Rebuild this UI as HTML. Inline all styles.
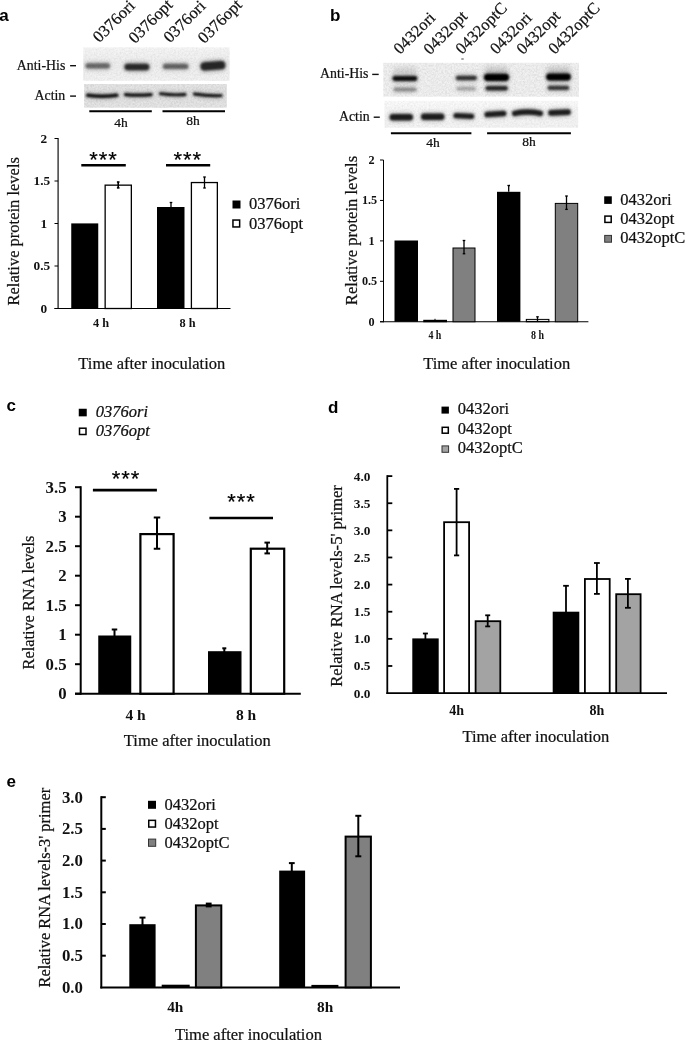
<!DOCTYPE html>
<html><head><meta charset="utf-8"><title>Figure</title>
<style>
html,body{margin:0;padding:0;background:#fff;}
svg{display:block;will-change:transform;}
.f-serif{font-family:"Liberation Serif",serif;}
.f-sans{font-family:"Liberation Sans",sans-serif;}
</style></head><body>
<svg width="685" height="1041" viewBox="0 0 685 1041">
<defs>
<filter id="b1" filterUnits="userSpaceOnUse" x="70" y="30" width="530" height="110"><feGaussianBlur stdDeviation="0.9"/></filter>
<filter id="b2" filterUnits="userSpaceOnUse" x="70" y="30" width="530" height="110"><feGaussianBlur stdDeviation="1.3"/></filter>
<filter id="b3" filterUnits="userSpaceOnUse" x="70" y="30" width="530" height="110"><feGaussianBlur stdDeviation="2.0"/></filter>
<filter id="noise" filterUnits="userSpaceOnUse" x="70" y="30" width="530" height="110">
<feTurbulence type="fractalNoise" baseFrequency="0.55" numOctaves="2" seed="7" result="t"/>
<feColorMatrix in="t" type="matrix" values="0 0 0 0 0  0 0 0 0 0  0 0 0 0 0  0.14 0.14 0.14 0 -0.17"/>
<feComposite in2="SourceGraphic" operator="in"/>
</filter>
<linearGradient id="gb2" x1="0" y1="0" x2="0" y2="1"><stop offset="0" stop-color="#fbfbfb"/><stop offset="0.5" stop-color="#f5f5f5"/><stop offset="1" stop-color="#f4f4f4"/></linearGradient>
<linearGradient id="ga1" x1="0" y1="0" x2="0" y2="1"><stop offset="0" stop-color="#f6f6f6"/><stop offset="0.45" stop-color="#eeeeee"/><stop offset="1" stop-color="#f2f2f2"/></linearGradient>
<clipPath id="ca1"><rect x="83.2" y="47.3" width="146.5" height="33.5"/></clipPath>
<clipPath id="ca2"><rect x="84.1" y="84.0" width="142.7" height="23.7"/></clipPath>
<clipPath id="cb1"><rect x="383.3" y="62.8" width="195.7" height="33.9"/></clipPath>
<clipPath id="cb2"><rect x="384.4" y="100.8" width="193.8" height="26.9"/></clipPath>
</defs>
<rect x="0" y="0" width="685" height="1041" fill="#fff"/>

<text class="f-sans" x="-0.8" y="21" text-anchor="start" style="font-size:17px;font-weight:bold;" fill="#000">a</text>
<text class="f-sans" x="330" y="21" text-anchor="start" style="font-size:17px;font-weight:bold;" fill="#000">b</text>
<text class="f-sans" x="6.5" y="411" text-anchor="start" style="font-size:17px;font-weight:bold;" fill="#000">c</text>
<text class="f-sans" x="328" y="412.5" text-anchor="start" style="font-size:17px;font-weight:bold;" fill="#000">d</text>
<text class="f-sans" x="6.5" y="786.5" text-anchor="start" style="font-size:17px;font-weight:bold;" fill="#000">e</text>
<text class="f-serif" x="99.3" y="43.3" text-anchor="start" style="font-size:16.6px;stroke:#111;stroke-width:0.22px;" fill="#111" transform="rotate(-45 99.3 43.3)">0376ori</text>
<text class="f-serif" x="135.0" y="44.3" text-anchor="start" style="font-size:16.6px;stroke:#111;stroke-width:0.22px;" fill="#111" transform="rotate(-45 135.0 44.3)">0376opt</text>
<text class="f-serif" x="170.0" y="43.5" text-anchor="start" style="font-size:16.6px;stroke:#111;stroke-width:0.22px;" fill="#111" transform="rotate(-45 170.0 43.5)">0376ori</text>
<text class="f-serif" x="204.3" y="44.3" text-anchor="start" style="font-size:16.6px;stroke:#111;stroke-width:0.22px;" fill="#111" transform="rotate(-45 204.3 44.3)">0376opt</text>
<rect x="83.20" y="47.30" width="146.50" height="33.50" fill="url(#ga1)"/>
<g clip-path="url(#ca1)">
<rect x="84.70" y="61.90" width="26.10" height="7.80" rx="3.90" fill="#000" opacity="0.20700000000000002" filter="url(#b3)"/>
<rect x="85.50" y="63.20" width="24.50" height="5.20" rx="2.60" fill="#000" opacity="0.46" filter="url(#b2)"/>
<rect x="123.70" y="62.40" width="26.40" height="9.20" rx="4.60" fill="#000" opacity="0.333" filter="url(#b3)"/>
<rect x="124.50" y="63.70" width="24.80" height="6.60" rx="3.30" fill="#000" opacity="0.74" filter="url(#b2)"/>
<rect x="162.20" y="62.50" width="26.90" height="7.80" rx="3.90" fill="#000" opacity="0.216" filter="url(#b3)"/>
<rect x="163.00" y="63.80" width="25.30" height="5.20" rx="2.60" fill="#000" opacity="0.48" filter="url(#b2)"/>
<path d="M205.10 66.40 Q212.90 65.80 220.70 65.20" fill="none" stroke="#000" stroke-width="10.80" stroke-linecap="round" opacity="0.342" filter="url(#b3)"/>
<path d="M204.60 66.40 Q212.90 65.80 221.20 65.20" fill="none" stroke="#000" stroke-width="8.20" stroke-linecap="round" opacity="0.76" filter="url(#b2)"/>
</g>
<rect x="84.10" y="84.00" width="142.70" height="23.70" fill="#e5e5e5"/>
<g clip-path="url(#ca2)">
<path d="M88.30 95.20 Q102.25 97.20 116.20 95.20" fill="none" stroke="#000" stroke-width="6.20" stroke-linecap="round" opacity="0.23" filter="url(#b3)"/>
<path d="M87.80 95.20 Q102.25 97.20 116.70 95.20" fill="none" stroke="#000" stroke-width="3.60" stroke-linecap="round" opacity="0.92" filter="url(#b1)"/>
<path d="M126.10 94.60 Q138.30 95.80 150.50 94.60" fill="none" stroke="#000" stroke-width="5.80" stroke-linecap="round" opacity="0.23" filter="url(#b3)"/>
<path d="M125.60 94.60 Q138.30 95.80 151.00 94.60" fill="none" stroke="#000" stroke-width="3.20" stroke-linecap="round" opacity="0.92" filter="url(#b1)"/>
<path d="M160.90 93.70 Q172.70 95.50 184.50 94.50" fill="none" stroke="#000" stroke-width="5.40" stroke-linecap="round" opacity="0.23" filter="url(#b3)"/>
<path d="M160.40 93.70 Q172.70 95.50 185.00 94.50" fill="none" stroke="#000" stroke-width="2.80" stroke-linecap="round" opacity="0.92" filter="url(#b1)"/>
<path d="M194.90 94.00 Q207.80 96.20 220.70 95.60" fill="none" stroke="#000" stroke-width="5.40" stroke-linecap="round" opacity="0.23" filter="url(#b3)"/>
<path d="M194.40 94.00 Q207.80 96.20 221.20 95.60" fill="none" stroke="#000" stroke-width="2.80" stroke-linecap="round" opacity="0.92" filter="url(#b1)"/>
</g>
<rect x="83.2" y="47.3" width="146.5" height="33.5" fill="#000" filter="url(#noise)" opacity="0.5"/>
<rect x="84.1" y="84.0" width="142.7" height="23.7" fill="#000" filter="url(#noise)" opacity="0.7"/>
<text class="f-serif" x="65.3" y="70.2" text-anchor="end" style="font-size:13.85px;stroke:#111;stroke-width:0.22px;" fill="#111">Anti-His</text>
<rect x="70.10" y="65.00" width="5.90" height="1.40" fill="#111"/>
<text class="f-serif" x="65.3" y="100.3" text-anchor="end" style="font-size:13.85px;stroke:#111;stroke-width:0.22px;" fill="#111">Actin</text>
<rect x="70.10" y="95.40" width="5.90" height="1.40" fill="#111"/>
<line x1="89.30" y1="111.30" x2="151.80" y2="111.30" stroke="#000" stroke-width="2" stroke-linecap="butt"/>
<line x1="162.50" y1="111.30" x2="225.00" y2="111.30" stroke="#000" stroke-width="2" stroke-linecap="butt"/>
<text class="f-serif" x="121" y="126.7" text-anchor="middle" style="font-size:13.5px;stroke:#111;stroke-width:0.22px;" fill="#111">4h</text>
<text class="f-serif" x="193" y="125.3" text-anchor="middle" style="font-size:13.5px;stroke:#111;stroke-width:0.22px;" fill="#111">8h</text>
<line x1="58.10" y1="138.00" x2="58.10" y2="309.00" stroke="#222" stroke-width="1.3" stroke-linecap="butt"/>
<line x1="54.50" y1="308.50" x2="230.50" y2="308.50" stroke="#000" stroke-width="1.2" stroke-linecap="butt"/>
<line x1="54.50" y1="308.50" x2="58.10" y2="308.50" stroke="#000" stroke-width="1" stroke-linecap="butt"/>
<text class="f-serif" x="47.2" y="312.9" text-anchor="end" style="font-size:13.3px;font-weight:bold;" fill="#111">0</text>
<line x1="54.50" y1="266.00" x2="58.10" y2="266.00" stroke="#000" stroke-width="1" stroke-linecap="butt"/>
<text class="f-serif" x="50.2" y="270.4" text-anchor="end" style="font-size:13.3px;font-weight:bold;" fill="#111">0.5</text>
<line x1="54.50" y1="223.50" x2="58.10" y2="223.50" stroke="#000" stroke-width="1" stroke-linecap="butt"/>
<text class="f-serif" x="47.2" y="227.9" text-anchor="end" style="font-size:13.3px;font-weight:bold;" fill="#111">1</text>
<line x1="54.50" y1="181.00" x2="58.10" y2="181.00" stroke="#000" stroke-width="1" stroke-linecap="butt"/>
<text class="f-serif" x="50.2" y="185.4" text-anchor="end" style="font-size:13.3px;font-weight:bold;" fill="#111">1.5</text>
<line x1="54.50" y1="138.50" x2="58.10" y2="138.50" stroke="#000" stroke-width="1" stroke-linecap="butt"/>
<text class="f-serif" x="47.2" y="142.9" text-anchor="end" style="font-size:13.3px;font-weight:bold;" fill="#111">2</text>
<rect x="71.25" y="223.40" width="27.00" height="85.10" fill="#000"/>
<rect x="105.15" y="185.15" width="26.20" height="123.35" fill="#fff" stroke="#000" stroke-width="1.3"/>
<rect x="157.00" y="207.00" width="27.50" height="101.50" fill="#000"/>
<rect x="191.40" y="182.55" width="25.95" height="125.95" fill="#fff" stroke="#000" stroke-width="1.3"/>
<line x1="118.20" y1="182.00" x2="118.20" y2="187.90" stroke="#000" stroke-width="1.6" stroke-linecap="butt"/>
<line x1="116.90" y1="182.00" x2="119.50" y2="182.00" stroke="#000" stroke-width="1.6" stroke-linecap="butt"/>
<line x1="116.90" y1="187.90" x2="119.50" y2="187.90" stroke="#000" stroke-width="1.6" stroke-linecap="butt"/>
<line x1="171.00" y1="202.50" x2="171.00" y2="207.00" stroke="#000" stroke-width="1.3" stroke-linecap="butt"/>
<line x1="169.70" y1="202.50" x2="172.30" y2="202.50" stroke="#000" stroke-width="1.3" stroke-linecap="butt"/>
<line x1="204.50" y1="177.00" x2="204.50" y2="188.00" stroke="#000" stroke-width="1.3" stroke-linecap="butt"/>
<line x1="203.20" y1="177.00" x2="205.80" y2="177.00" stroke="#000" stroke-width="1.3" stroke-linecap="butt"/>
<line x1="203.20" y1="188.00" x2="205.80" y2="188.00" stroke="#000" stroke-width="1.3" stroke-linecap="butt"/>
<line x1="81.30" y1="165.30" x2="125.80" y2="165.30" stroke="#000" stroke-width="2.4" stroke-linecap="butt"/>
<line x1="166.00" y1="165.30" x2="210.20" y2="165.30" stroke="#000" stroke-width="2.4" stroke-linecap="butt"/>
<text class="f-sans" x="103.5" y="167.2" text-anchor="middle" style="font-size:22px;" fill="#000" letter-spacing="0.9" stroke="#000" stroke-width="0.2">***</text>
<text class="f-sans" x="187.8" y="167.2" text-anchor="middle" style="font-size:22px;" fill="#000" letter-spacing="0.9" stroke="#000" stroke-width="0.2">***</text>
<text class="f-serif" x="101" y="327.3" text-anchor="middle" style="font-size:12.3px;font-weight:bold;" fill="#111">4 h</text>
<text class="f-serif" x="187.5" y="327.3" text-anchor="middle" style="font-size:12.3px;font-weight:bold;" fill="#111">8 h</text>
<text class="f-serif" x="78.3" y="368.75" text-anchor="start" style="font-size:16.5px;stroke:#111;stroke-width:0.22px;" fill="#111">Time after inoculation</text>
<text class="f-serif" x="19" y="231.3" text-anchor="middle" style="font-size:16.5px;stroke:#111;stroke-width:0.22px;" fill="#111" transform="rotate(-90 19 231.3)">Relative protein levels</text>
<rect x="232.50" y="200.50" width="8.00" height="8.00" fill="#000"/>
<rect x="232.95" y="220.05" width="6.70" height="6.90" fill="#fff" stroke="#000" stroke-width="1.5"/>
<text class="f-serif" x="249.0" y="209.3" text-anchor="start" style="font-size:16.5px;stroke:#111;stroke-width:0.22px;" fill="#111">0376ori</text>
<text class="f-serif" x="249.0" y="228.8" text-anchor="start" style="font-size:16.5px;stroke:#111;stroke-width:0.22px;" fill="#111">0376opt</text>
<text class="f-serif" x="400.0" y="55.0" text-anchor="start" style="font-size:16.5px;stroke:#111;stroke-width:0.22px;" fill="#111" transform="rotate(-45 400.0 55.0)">0432ori</text>
<text class="f-serif" x="430.0" y="55.4" text-anchor="start" style="font-size:16.5px;stroke:#111;stroke-width:0.22px;" fill="#111" transform="rotate(-45 430.0 55.4)">0432opt</text>
<text class="f-serif" x="462" y="55.0" text-anchor="start" style="font-size:16.5px;stroke:#111;stroke-width:0.22px;" fill="#111" transform="rotate(-45 462 55.0)">0432optC</text>
<text class="f-serif" x="496.5" y="55.0" text-anchor="start" style="font-size:16.5px;stroke:#111;stroke-width:0.22px;" fill="#111" transform="rotate(-45 496.5 55.0)">0432ori</text>
<text class="f-serif" x="523.0" y="55.2" text-anchor="start" style="font-size:16.5px;stroke:#111;stroke-width:0.22px;" fill="#111" transform="rotate(-45 523.0 55.2)">0432opt</text>
<text class="f-serif" x="554.8" y="55.0" text-anchor="start" style="font-size:16.5px;stroke:#111;stroke-width:0.22px;" fill="#111" transform="rotate(-45 554.8 55.0)">0432optC</text>
<rect x="383.30" y="62.80" width="195.70" height="33.90" fill="#f1f1f1"/>
<g clip-path="url(#cb1)">
<rect x="393.00" y="67.00" width="24.00" height="8.00" rx="4.00" fill="#000" opacity="0.1" filter="url(#b3)"/>
<rect x="484.50" y="66.00" width="24.00" height="8.00" rx="4.00" fill="#000" opacity="0.12" filter="url(#b3)"/>
<rect x="546.50" y="66.00" width="24.00" height="8.00" rx="4.00" fill="#000" opacity="0.12" filter="url(#b3)"/>
<rect x="391.70" y="74.80" width="26.40" height="7.40" rx="3.70" fill="#000" opacity="0.315" filter="url(#b3)"/>
<rect x="392.50" y="76.10" width="24.80" height="4.80" rx="2.40" fill="#000" opacity="0.9" filter="url(#b1)"/>
<rect x="392.70" y="86.10" width="24.60" height="6.60" rx="3.30" fill="#000" opacity="0.15" filter="url(#b3)"/>
<rect x="393.50" y="87.40" width="23.00" height="4.00" rx="2.00" fill="#000" opacity="0.3" filter="url(#b2)"/>
<rect x="455.00" y="74.50" width="22.60" height="7.00" rx="3.50" fill="#000" opacity="0.252" filter="url(#b3)"/>
<rect x="455.80" y="75.80" width="21.00" height="4.40" rx="2.20" fill="#000" opacity="0.72" filter="url(#b1)"/>
<rect x="455.70" y="85.50" width="21.10" height="6.20" rx="3.10" fill="#000" opacity="0.11" filter="url(#b3)"/>
<rect x="456.50" y="86.80" width="19.50" height="3.60" rx="1.80" fill="#000" opacity="0.22" filter="url(#b2)"/>
<rect x="483.20" y="72.40" width="26.60" height="9.80" rx="4.90" fill="#000" opacity="0.35" filter="url(#b3)"/>
<rect x="484.00" y="73.70" width="25.00" height="7.20" rx="3.60" fill="#000" opacity="1.0" filter="url(#b1)"/>
<rect x="484.70" y="84.70" width="23.90" height="7.20" rx="3.60" fill="#000" opacity="0.27299999999999996" filter="url(#b3)"/>
<rect x="485.50" y="86.00" width="22.30" height="4.60" rx="2.30" fill="#000" opacity="0.78" filter="url(#b1)"/>
<rect x="545.40" y="72.30" width="26.20" height="9.40" rx="4.70" fill="#000" opacity="0.35" filter="url(#b3)"/>
<rect x="546.20" y="73.60" width="24.60" height="6.80" rx="3.40" fill="#000" opacity="1.0" filter="url(#b1)"/>
<rect x="546.80" y="84.50" width="23.20" height="6.80" rx="3.40" fill="#000" opacity="0.24499999999999997" filter="url(#b3)"/>
<rect x="547.60" y="85.80" width="21.60" height="4.20" rx="2.10" fill="#000" opacity="0.7" filter="url(#b1)"/>
</g>
<rect x="384.40" y="100.80" width="193.80" height="26.90" fill="url(#gb2)"/>
<g clip-path="url(#cb2)">
<rect x="388.80" y="112.70" width="25.00" height="9.00" rx="4.50" fill="#000" opacity="0.252" filter="url(#b3)"/>
<rect x="389.60" y="114.00" width="23.40" height="6.40" rx="3.20" fill="#000" opacity="0.84" filter="url(#b1)"/>
<rect x="420.20" y="112.20" width="25.00" height="9.00" rx="4.50" fill="#000" opacity="0.252" filter="url(#b3)"/>
<rect x="421.00" y="113.50" width="23.40" height="6.40" rx="3.20" fill="#000" opacity="0.84" filter="url(#b1)"/>
<path d="M456.50 115.70 Q463.80 116.00 471.10 116.30" fill="none" stroke="#000" stroke-width="7.80" stroke-linecap="round" opacity="0.252" filter="url(#b3)"/>
<path d="M456.00 115.70 Q463.80 116.00 471.60 116.30" fill="none" stroke="#000" stroke-width="5.20" stroke-linecap="round" opacity="0.84" filter="url(#b1)"/>
<path d="M487.80 114.50 Q495.45 114.00 503.10 113.50" fill="none" stroke="#000" stroke-width="8.20" stroke-linecap="round" opacity="0.252" filter="url(#b3)"/>
<path d="M487.30 114.50 Q495.45 114.00 503.60 113.50" fill="none" stroke="#000" stroke-width="5.60" stroke-linecap="round" opacity="0.84" filter="url(#b1)"/>
<path d="M515.20 113.40 Q527.50 110.60 539.80 113.40" fill="none" stroke="#000" stroke-width="8.00" stroke-linecap="round" opacity="0.252" filter="url(#b3)"/>
<path d="M514.70 113.40 Q527.50 110.60 540.30 113.40" fill="none" stroke="#000" stroke-width="5.40" stroke-linecap="round" opacity="0.84" filter="url(#b1)"/>
<path d="M551.50 112.90 Q559.50 112.50 567.50 112.10" fill="none" stroke="#000" stroke-width="8.20" stroke-linecap="round" opacity="0.252" filter="url(#b3)"/>
<path d="M551.00 112.90 Q559.50 112.50 568.00 112.10" fill="none" stroke="#000" stroke-width="5.60" stroke-linecap="round" opacity="0.84" filter="url(#b1)"/>
</g>
<rect x="461.30" y="58.50" width="2.40" height="1.00" fill="#444"/>
<rect x="383.3" y="62.8" width="195.7" height="33.9" fill="#000" filter="url(#noise)" opacity="0.7"/>
<rect x="384.4" y="100.8" width="193.8" height="26.9" fill="#000" filter="url(#noise)" opacity="0.5"/>
<text class="f-serif" x="368.5" y="78.1" text-anchor="end" style="font-size:13.85px;stroke:#111;stroke-width:0.22px;" fill="#111">Anti-His</text>
<rect x="372.20" y="73.70" width="6.50" height="1.40" fill="#111"/>
<text class="f-serif" x="369.7" y="120.5" text-anchor="end" style="font-size:13.85px;stroke:#111;stroke-width:0.22px;" fill="#111">Actin</text>
<rect x="373.70" y="116.50" width="6.10" height="1.40" fill="#111"/>
<line x1="390.90" y1="133.30" x2="471.40" y2="133.30" stroke="#000" stroke-width="2" stroke-linecap="butt"/>
<line x1="487.10" y1="133.30" x2="570.90" y2="133.30" stroke="#000" stroke-width="2" stroke-linecap="butt"/>
<text class="f-serif" x="433" y="147" text-anchor="middle" style="font-size:13.5px;stroke:#111;stroke-width:0.22px;" fill="#111">4h</text>
<text class="f-serif" x="529" y="146" text-anchor="middle" style="font-size:13.5px;stroke:#111;stroke-width:0.22px;" fill="#111">8h</text>
<line x1="383.50" y1="160.00" x2="383.50" y2="322.25" stroke="#000" stroke-width="1" stroke-linecap="butt"/>
<line x1="380.00" y1="321.75" x2="588.40" y2="321.75" stroke="#000" stroke-width="1" stroke-linecap="butt"/>
<line x1="380.00" y1="321.75" x2="383.50" y2="321.75" stroke="#000" stroke-width="1" stroke-linecap="butt"/>
<text class="f-serif" x="374.5" y="325.75" text-anchor="end" style="font-size:12.2px;font-weight:bold;" fill="#111">0</text>
<line x1="380.00" y1="281.31" x2="383.50" y2="281.31" stroke="#000" stroke-width="1" stroke-linecap="butt"/>
<text class="f-serif" x="377.2" y="285.3125" text-anchor="end" style="font-size:12.2px;font-weight:bold;" fill="#111">0.5</text>
<line x1="380.00" y1="240.88" x2="383.50" y2="240.88" stroke="#000" stroke-width="1" stroke-linecap="butt"/>
<text class="f-serif" x="374.5" y="244.875" text-anchor="end" style="font-size:12.2px;font-weight:bold;" fill="#111">1</text>
<line x1="380.00" y1="200.44" x2="383.50" y2="200.44" stroke="#000" stroke-width="1" stroke-linecap="butt"/>
<text class="f-serif" x="377.2" y="204.4375" text-anchor="end" style="font-size:12.2px;font-weight:bold;" fill="#111">1.5</text>
<line x1="380.00" y1="160.00" x2="383.50" y2="160.00" stroke="#000" stroke-width="1" stroke-linecap="butt"/>
<text class="f-serif" x="374.5" y="164.0" text-anchor="end" style="font-size:12.2px;font-weight:bold;" fill="#111">2</text>
<rect x="394.50" y="240.50" width="23.50" height="81.25" fill="#000"/>
<rect x="423.25" y="319.80" width="23.75" height="2.45" fill="#000"/>
<rect x="453.00" y="248.00" width="22.00" height="73.75" fill="#808080" stroke="#000" stroke-width="1"/>
<rect x="497.00" y="191.80" width="23.40" height="129.95" fill="#000"/>
<rect x="525.80" y="318.90" width="23.60" height="3.35" fill="#000"/>
<rect x="526.90" y="319.90" width="21.40" height="1.00" fill="#fff"/>
<rect x="555.30" y="203.40" width="22.40" height="118.35" fill="#808080" stroke="#000" stroke-width="1"/>
<line x1="435.00" y1="318.80" x2="435.00" y2="320.20" stroke="#000" stroke-width="1" stroke-linecap="butt"/>
<line x1="464.00" y1="240.50" x2="464.00" y2="253.75" stroke="#000" stroke-width="1.3" stroke-linecap="butt"/>
<line x1="462.70" y1="240.50" x2="465.30" y2="240.50" stroke="#000" stroke-width="1.3" stroke-linecap="butt"/>
<line x1="462.70" y1="253.75" x2="465.30" y2="253.75" stroke="#000" stroke-width="1.3" stroke-linecap="butt"/>
<line x1="508.70" y1="185.50" x2="508.70" y2="191.80" stroke="#000" stroke-width="1.3" stroke-linecap="butt"/>
<line x1="507.40" y1="185.50" x2="510.00" y2="185.50" stroke="#000" stroke-width="1.3" stroke-linecap="butt"/>
<line x1="537.50" y1="316.80" x2="537.50" y2="321.00" stroke="#000" stroke-width="1.3" stroke-linecap="butt"/>
<line x1="536.20" y1="316.80" x2="538.80" y2="316.80" stroke="#000" stroke-width="1.3" stroke-linecap="butt"/>
<line x1="566.50" y1="196.00" x2="566.50" y2="209.40" stroke="#000" stroke-width="1.3" stroke-linecap="butt"/>
<line x1="565.20" y1="196.00" x2="567.80" y2="196.00" stroke="#000" stroke-width="1.3" stroke-linecap="butt"/>
<line x1="565.20" y1="209.40" x2="567.80" y2="209.40" stroke="#000" stroke-width="1.3" stroke-linecap="butt"/>
<text class="f-serif" x="428.4" y="338.7" text-anchor="start" style="font-size:12px;font-weight:bold;" fill="#111" textLength="13" lengthAdjust="spacingAndGlyphs">4 h</text>
<text class="f-serif" x="531.0" y="338.7" text-anchor="start" style="font-size:12px;font-weight:bold;" fill="#111" textLength="13" lengthAdjust="spacingAndGlyphs">8 h</text>
<text class="f-serif" x="423.2" y="368.9" text-anchor="start" style="font-size:16.5px;stroke:#111;stroke-width:0.22px;" fill="#111">Time after inoculation</text>
<text class="f-serif" x="357" y="230.5" text-anchor="middle" style="font-size:16.6px;stroke:#111;stroke-width:0.22px;" fill="#111" transform="rotate(-90 357 230.5)">Relative protein levels</text>
<rect x="604.20" y="196.30" width="7.60" height="7.60" fill="#000"/>
<rect x="604.90" y="216.10" width="6.30" height="6.30" fill="#fff" stroke="#000" stroke-width="1.5"/>
<rect x="604.70" y="235.40" width="6.80" height="6.80" fill="#808080" stroke="#333" stroke-width="1"/>
<text class="f-serif" x="620.2" y="204.6" text-anchor="start" style="font-size:16.5px;stroke:#111;stroke-width:0.22px;" fill="#111">0432ori</text>
<text class="f-serif" x="620.2" y="223.9" text-anchor="start" style="font-size:16.5px;stroke:#111;stroke-width:0.22px;" fill="#111">0432opt</text>
<text class="f-serif" x="620.2" y="242.9" text-anchor="start" style="font-size:16.5px;stroke:#111;stroke-width:0.22px;" fill="#111">0432optC</text>
<line x1="80.70" y1="486.20" x2="80.70" y2="694.70" stroke="#000" stroke-width="2" stroke-linecap="butt"/>
<line x1="75.00" y1="693.70" x2="300.80" y2="693.70" stroke="#000" stroke-width="2" stroke-linecap="butt"/>
<line x1="75.00" y1="693.70" x2="80.70" y2="693.70" stroke="#000" stroke-width="2" stroke-linecap="butt"/>
<text class="f-serif" x="66.6" y="699.2" text-anchor="end" style="font-size:16.8px;font-weight:bold;" fill="#111">0</text>
<line x1="75.00" y1="664.20" x2="80.70" y2="664.20" stroke="#000" stroke-width="2" stroke-linecap="butt"/>
<text class="f-serif" x="66.6" y="669.7" text-anchor="end" style="font-size:16.8px;font-weight:bold;" fill="#111">0.5</text>
<line x1="75.00" y1="634.70" x2="80.70" y2="634.70" stroke="#000" stroke-width="2" stroke-linecap="butt"/>
<text class="f-serif" x="66.6" y="640.2" text-anchor="end" style="font-size:16.8px;font-weight:bold;" fill="#111">1</text>
<line x1="75.00" y1="605.20" x2="80.70" y2="605.20" stroke="#000" stroke-width="2" stroke-linecap="butt"/>
<text class="f-serif" x="66.6" y="610.7" text-anchor="end" style="font-size:16.8px;font-weight:bold;" fill="#111">1.5</text>
<line x1="75.00" y1="575.70" x2="80.70" y2="575.70" stroke="#000" stroke-width="2" stroke-linecap="butt"/>
<text class="f-serif" x="66.6" y="581.2" text-anchor="end" style="font-size:16.8px;font-weight:bold;" fill="#111">2</text>
<line x1="75.00" y1="546.20" x2="80.70" y2="546.20" stroke="#000" stroke-width="2" stroke-linecap="butt"/>
<text class="f-serif" x="66.6" y="551.7" text-anchor="end" style="font-size:16.8px;font-weight:bold;" fill="#111">2.5</text>
<line x1="75.00" y1="516.70" x2="80.70" y2="516.70" stroke="#000" stroke-width="2" stroke-linecap="butt"/>
<text class="f-serif" x="66.6" y="522.2" text-anchor="end" style="font-size:16.8px;font-weight:bold;" fill="#111">3</text>
<line x1="75.00" y1="487.20" x2="80.70" y2="487.20" stroke="#000" stroke-width="2" stroke-linecap="butt"/>
<text class="f-serif" x="66.6" y="492.7" text-anchor="end" style="font-size:16.8px;font-weight:bold;" fill="#111">3.5</text>
<rect x="98.25" y="635.50" width="33.00" height="58.20" fill="#000"/>
<rect x="140.40" y="534.10" width="33.20" height="159.60" fill="#fff" stroke="#000" stroke-width="2.2"/>
<rect x="208.00" y="651.20" width="33.50" height="42.50" fill="#000"/>
<rect x="250.80" y="548.70" width="33.40" height="145.00" fill="#fff" stroke="#000" stroke-width="2.2"/>
<line x1="114.50" y1="629.50" x2="114.50" y2="636.00" stroke="#000" stroke-width="2" stroke-linecap="butt"/>
<line x1="111.75" y1="629.50" x2="117.25" y2="629.50" stroke="#000" stroke-width="2" stroke-linecap="butt"/>
<line x1="157.00" y1="517.50" x2="157.00" y2="548.75" stroke="#000" stroke-width="2" stroke-linecap="butt"/>
<line x1="153.75" y1="517.50" x2="160.25" y2="517.50" stroke="#000" stroke-width="2" stroke-linecap="butt"/>
<line x1="153.75" y1="548.75" x2="160.25" y2="548.75" stroke="#000" stroke-width="2" stroke-linecap="butt"/>
<line x1="224.30" y1="648.30" x2="224.30" y2="652.00" stroke="#000" stroke-width="2" stroke-linecap="butt"/>
<line x1="222.30" y1="648.30" x2="226.30" y2="648.30" stroke="#000" stroke-width="2" stroke-linecap="butt"/>
<line x1="267.20" y1="542.60" x2="267.20" y2="553.40" stroke="#000" stroke-width="2" stroke-linecap="butt"/>
<line x1="264.45" y1="542.60" x2="269.95" y2="542.60" stroke="#000" stroke-width="2" stroke-linecap="butt"/>
<line x1="264.45" y1="553.40" x2="269.95" y2="553.40" stroke="#000" stroke-width="2" stroke-linecap="butt"/>
<line x1="92.90" y1="490.10" x2="156.90" y2="490.10" stroke="#000" stroke-width="2.6" stroke-linecap="butt"/>
<line x1="209.40" y1="518.00" x2="273.00" y2="518.00" stroke="#000" stroke-width="2.6" stroke-linecap="butt"/>
<text class="f-sans" x="126.0" y="485.9" text-anchor="middle" style="font-size:22px;" fill="#000" letter-spacing="0.9" stroke="#000" stroke-width="0.2">***</text>
<text class="f-sans" x="241.5" y="509.3" text-anchor="middle" style="font-size:22px;" fill="#000" letter-spacing="0.9" stroke="#000" stroke-width="0.2">***</text>
<text class="f-serif" x="135.5" y="719.5" text-anchor="middle" style="font-size:15.5px;font-weight:bold;" fill="#111">4 h</text>
<text class="f-serif" x="246" y="719.5" text-anchor="middle" style="font-size:15.5px;font-weight:bold;" fill="#111">8 h</text>
<text class="f-serif" x="123.8" y="746.2" text-anchor="start" style="font-size:16.5px;stroke:#111;stroke-width:0.22px;" fill="#111">Time after inoculation</text>
<text class="f-serif" x="33.8" y="602.5" text-anchor="middle" style="font-size:16.3px;stroke:#111;stroke-width:0.22px;" fill="#111" transform="rotate(-90 33.8 602.5)">Relative RNA levels</text>
<rect x="78.75" y="408.75" width="8.00" height="7.60" fill="#000"/>
<rect x="79.50" y="428.20" width="6.50" height="6.30" fill="#fff" stroke="#000" stroke-width="1.5"/>
<text class="f-serif" x="95.75" y="416.8" text-anchor="start" style="font-size:16.5px;stroke:#111;stroke-width:0.22px;font-style:italic;" fill="#111">0376ori</text>
<text class="f-serif" x="95.75" y="436.3" text-anchor="start" style="font-size:16.5px;stroke:#111;stroke-width:0.22px;font-style:italic;" fill="#111">0376opt</text>
<line x1="387.30" y1="475.20" x2="387.30" y2="694.00" stroke="#000" stroke-width="1.8" stroke-linecap="butt"/>
<line x1="386.40" y1="693.10" x2="667.00" y2="693.10" stroke="#000" stroke-width="1.8" stroke-linecap="butt"/>
<text class="f-serif" x="370.4" y="697.5" text-anchor="end" style="font-size:13.3px;font-weight:bold;" fill="#111">0.0</text>
<line x1="387.30" y1="665.98" x2="392.30" y2="665.98" stroke="#000" stroke-width="1.8" stroke-linecap="butt"/>
<text class="f-serif" x="370.4" y="670.375" text-anchor="end" style="font-size:13.3px;font-weight:bold;" fill="#111">0.5</text>
<line x1="387.30" y1="638.85" x2="392.30" y2="638.85" stroke="#000" stroke-width="1.8" stroke-linecap="butt"/>
<text class="f-serif" x="370.4" y="643.25" text-anchor="end" style="font-size:13.3px;font-weight:bold;" fill="#111">1.0</text>
<line x1="387.30" y1="611.73" x2="392.30" y2="611.73" stroke="#000" stroke-width="1.8" stroke-linecap="butt"/>
<text class="f-serif" x="370.4" y="616.125" text-anchor="end" style="font-size:13.3px;font-weight:bold;" fill="#111">1.5</text>
<line x1="387.30" y1="584.60" x2="392.30" y2="584.60" stroke="#000" stroke-width="1.8" stroke-linecap="butt"/>
<text class="f-serif" x="370.4" y="589.0" text-anchor="end" style="font-size:13.3px;font-weight:bold;" fill="#111">2.0</text>
<line x1="387.30" y1="557.48" x2="392.30" y2="557.48" stroke="#000" stroke-width="1.8" stroke-linecap="butt"/>
<text class="f-serif" x="370.4" y="561.875" text-anchor="end" style="font-size:13.3px;font-weight:bold;" fill="#111">2.5</text>
<line x1="387.30" y1="530.35" x2="392.30" y2="530.35" stroke="#000" stroke-width="1.8" stroke-linecap="butt"/>
<text class="f-serif" x="370.4" y="534.75" text-anchor="end" style="font-size:13.3px;font-weight:bold;" fill="#111">3.0</text>
<line x1="387.30" y1="503.23" x2="392.30" y2="503.23" stroke="#000" stroke-width="1.8" stroke-linecap="butt"/>
<text class="f-serif" x="370.4" y="507.625" text-anchor="end" style="font-size:13.3px;font-weight:bold;" fill="#111">3.5</text>
<line x1="387.30" y1="476.10" x2="392.30" y2="476.10" stroke="#000" stroke-width="1.8" stroke-linecap="butt"/>
<text class="f-serif" x="370.4" y="480.5" text-anchor="end" style="font-size:13.3px;font-weight:bold;" fill="#111">4.0</text>
<rect x="412.30" y="638.40" width="26.40" height="54.70" fill="#000"/>
<rect x="444.10" y="522.20" width="25.00" height="170.90" fill="#fff" stroke="#000" stroke-width="1.8"/>
<rect x="475.60" y="621.20" width="24.70" height="71.90" fill="#a3a3a3" stroke="#000" stroke-width="1.8"/>
<rect x="552.70" y="611.70" width="26.60" height="81.40" fill="#000"/>
<rect x="584.90" y="579.00" width="24.80" height="114.10" fill="#fff" stroke="#000" stroke-width="1.8"/>
<rect x="616.20" y="594.20" width="24.40" height="98.90" fill="#a3a3a3" stroke="#000" stroke-width="1.8"/>
<line x1="425.40" y1="633.50" x2="425.40" y2="639.00" stroke="#000" stroke-width="1.8" stroke-linecap="butt"/>
<line x1="422.90" y1="633.50" x2="427.90" y2="633.50" stroke="#000" stroke-width="1.8" stroke-linecap="butt"/>
<line x1="456.60" y1="488.90" x2="456.60" y2="555.40" stroke="#000" stroke-width="1.8" stroke-linecap="butt"/>
<line x1="454.00" y1="488.90" x2="459.20" y2="488.90" stroke="#000" stroke-width="1.8" stroke-linecap="butt"/>
<line x1="454.00" y1="555.40" x2="459.20" y2="555.40" stroke="#000" stroke-width="1.8" stroke-linecap="butt"/>
<line x1="487.70" y1="615.30" x2="487.70" y2="626.40" stroke="#000" stroke-width="1.8" stroke-linecap="butt"/>
<line x1="485.20" y1="615.30" x2="490.20" y2="615.30" stroke="#000" stroke-width="1.8" stroke-linecap="butt"/>
<line x1="485.20" y1="626.40" x2="490.20" y2="626.40" stroke="#000" stroke-width="1.8" stroke-linecap="butt"/>
<line x1="566.00" y1="585.80" x2="566.00" y2="612.00" stroke="#000" stroke-width="1.8" stroke-linecap="butt"/>
<line x1="563.15" y1="585.80" x2="568.85" y2="585.80" stroke="#000" stroke-width="1.8" stroke-linecap="butt"/>
<line x1="596.90" y1="563.00" x2="596.90" y2="593.90" stroke="#000" stroke-width="1.8" stroke-linecap="butt"/>
<line x1="594.00" y1="563.00" x2="599.80" y2="563.00" stroke="#000" stroke-width="1.8" stroke-linecap="butt"/>
<line x1="594.00" y1="593.90" x2="599.80" y2="593.90" stroke="#000" stroke-width="1.8" stroke-linecap="butt"/>
<line x1="627.90" y1="578.90" x2="627.90" y2="607.80" stroke="#000" stroke-width="1.8" stroke-linecap="butt"/>
<line x1="625.00" y1="578.90" x2="630.80" y2="578.90" stroke="#000" stroke-width="1.8" stroke-linecap="butt"/>
<line x1="625.00" y1="607.80" x2="630.80" y2="607.80" stroke="#000" stroke-width="1.8" stroke-linecap="butt"/>
<text class="f-serif" x="456.7" y="714.9" text-anchor="middle" style="font-size:14px;font-weight:bold;" fill="#111">4h</text>
<text class="f-serif" x="596.8" y="714.9" text-anchor="middle" style="font-size:14px;font-weight:bold;" fill="#111">8h</text>
<text class="f-serif" x="462.4" y="742.4" text-anchor="start" style="font-size:16.5px;stroke:#111;stroke-width:0.22px;" fill="#111">Time after inoculation</text>
<text class="f-serif" x="342" y="586" text-anchor="middle" style="font-size:16.6px;stroke:#111;stroke-width:0.22px;" fill="#111" transform="rotate(-90 342 586)">Relative RNA levels-5' primer</text>
<rect x="441.50" y="406.60" width="7.40" height="7.00" fill="#000"/>
<rect x="442.20" y="427.30" width="6.10" height="5.90" fill="#fff" stroke="#000" stroke-width="1.5"/>
<rect x="442.00" y="445.90" width="6.60" height="6.40" fill="#a3a3a3" stroke="#333" stroke-width="1"/>
<text class="f-serif" x="457.7" y="414.2" text-anchor="start" style="font-size:16.5px;stroke:#111;stroke-width:0.22px;" fill="#111">0432ori</text>
<text class="f-serif" x="457.7" y="434.0" text-anchor="start" style="font-size:16.5px;stroke:#111;stroke-width:0.22px;" fill="#111">0432opt</text>
<text class="f-serif" x="457.7" y="452.9" text-anchor="start" style="font-size:16.5px;stroke:#111;stroke-width:0.22px;" fill="#111">0432optC</text>
<line x1="101.30" y1="796.20" x2="101.30" y2="988.40" stroke="#000" stroke-width="2" stroke-linecap="butt"/>
<line x1="100.30" y1="987.40" x2="400.00" y2="987.40" stroke="#000" stroke-width="2" stroke-linecap="butt"/>
<text class="f-serif" x="82.9" y="992.8" text-anchor="end" style="font-size:16.8px;font-weight:bold;" fill="#111">0.0</text>
<line x1="101.30" y1="955.70" x2="105.80" y2="955.70" stroke="#000" stroke-width="2" stroke-linecap="butt"/>
<text class="f-serif" x="82.9" y="961.1" text-anchor="end" style="font-size:16.8px;font-weight:bold;" fill="#111">0.5</text>
<line x1="101.30" y1="924.00" x2="105.80" y2="924.00" stroke="#000" stroke-width="2" stroke-linecap="butt"/>
<text class="f-serif" x="82.9" y="929.4" text-anchor="end" style="font-size:16.8px;font-weight:bold;" fill="#111">1.0</text>
<line x1="101.30" y1="892.30" x2="105.80" y2="892.30" stroke="#000" stroke-width="2" stroke-linecap="butt"/>
<text class="f-serif" x="82.9" y="897.6999999999999" text-anchor="end" style="font-size:16.8px;font-weight:bold;" fill="#111">1.5</text>
<line x1="101.30" y1="860.60" x2="105.80" y2="860.60" stroke="#000" stroke-width="2" stroke-linecap="butt"/>
<text class="f-serif" x="82.9" y="866.0" text-anchor="end" style="font-size:16.8px;font-weight:bold;" fill="#111">2.0</text>
<line x1="101.30" y1="828.90" x2="105.80" y2="828.90" stroke="#000" stroke-width="2" stroke-linecap="butt"/>
<text class="f-serif" x="82.9" y="834.3000000000001" text-anchor="end" style="font-size:16.8px;font-weight:bold;" fill="#111">2.5</text>
<line x1="101.30" y1="797.20" x2="105.80" y2="797.20" stroke="#000" stroke-width="2" stroke-linecap="butt"/>
<text class="f-serif" x="82.9" y="802.6" text-anchor="end" style="font-size:16.8px;font-weight:bold;" fill="#111">3.0</text>
<rect x="129.30" y="924.20" width="26.30" height="63.20" fill="#000"/>
<rect x="161.70" y="984.70" width="28.00" height="2.50" fill="#000"/>
<rect x="195.90" y="905.40" width="25.40" height="82.00" fill="#808080" stroke="#000" stroke-width="2"/>
<rect x="279.20" y="870.60" width="25.90" height="116.80" fill="#000"/>
<rect x="311.40" y="984.90" width="27.00" height="2.30" fill="#000"/>
<rect x="345.60" y="836.60" width="25.30" height="150.80" fill="#808080" stroke="#000" stroke-width="2"/>
<line x1="142.50" y1="917.60" x2="142.50" y2="925.00" stroke="#000" stroke-width="2" stroke-linecap="butt"/>
<line x1="139.50" y1="917.60" x2="145.50" y2="917.60" stroke="#000" stroke-width="2" stroke-linecap="butt"/>
<rect x="205.80" y="902.60" width="5.80" height="4.80" fill="#000"/>
<line x1="291.80" y1="863.10" x2="291.80" y2="871.00" stroke="#000" stroke-width="2" stroke-linecap="butt"/>
<line x1="288.90" y1="863.10" x2="294.70" y2="863.10" stroke="#000" stroke-width="2" stroke-linecap="butt"/>
<line x1="358.30" y1="815.80" x2="358.30" y2="856.30" stroke="#000" stroke-width="2" stroke-linecap="butt"/>
<line x1="355.30" y1="815.80" x2="361.30" y2="815.80" stroke="#000" stroke-width="2" stroke-linecap="butt"/>
<line x1="355.30" y1="856.30" x2="361.30" y2="856.30" stroke="#000" stroke-width="2" stroke-linecap="butt"/>
<text class="f-serif" x="175.3" y="1011.8" text-anchor="middle" style="font-size:15.3px;font-weight:bold;" fill="#111">4h</text>
<text class="f-serif" x="325.1" y="1011.8" text-anchor="middle" style="font-size:15.3px;font-weight:bold;" fill="#111">8h</text>
<text class="f-serif" x="175.0" y="1040.3" text-anchor="start" style="font-size:16.5px;stroke:#111;stroke-width:0.22px;" fill="#111">Time after inoculation</text>
<text class="f-serif" x="50.3" y="887.7" text-anchor="middle" style="font-size:16.45px;stroke:#111;stroke-width:0.22px;" fill="#111" transform="rotate(-90 50.3 887.7)">Relative RNA levels-3' primer</text>
<rect x="148.00" y="800.80" width="8.00" height="8.00" fill="#000"/>
<rect x="148.75" y="820.35" width="6.70" height="6.70" fill="#fff" stroke="#000" stroke-width="1.5"/>
<rect x="148.50" y="839.10" width="7.20" height="7.20" fill="#808080" stroke="#333" stroke-width="1"/>
<text class="f-serif" x="164.5" y="809.5" text-anchor="start" style="font-size:16.5px;stroke:#111;stroke-width:0.22px;" fill="#111">0432ori</text>
<text class="f-serif" x="164.5" y="828.5" text-anchor="start" style="font-size:16.5px;stroke:#111;stroke-width:0.22px;" fill="#111">0432opt</text>
<text class="f-serif" x="164.5" y="847.5" text-anchor="start" style="font-size:16.5px;stroke:#111;stroke-width:0.22px;" fill="#111">0432optC</text>
</svg></body></html>
